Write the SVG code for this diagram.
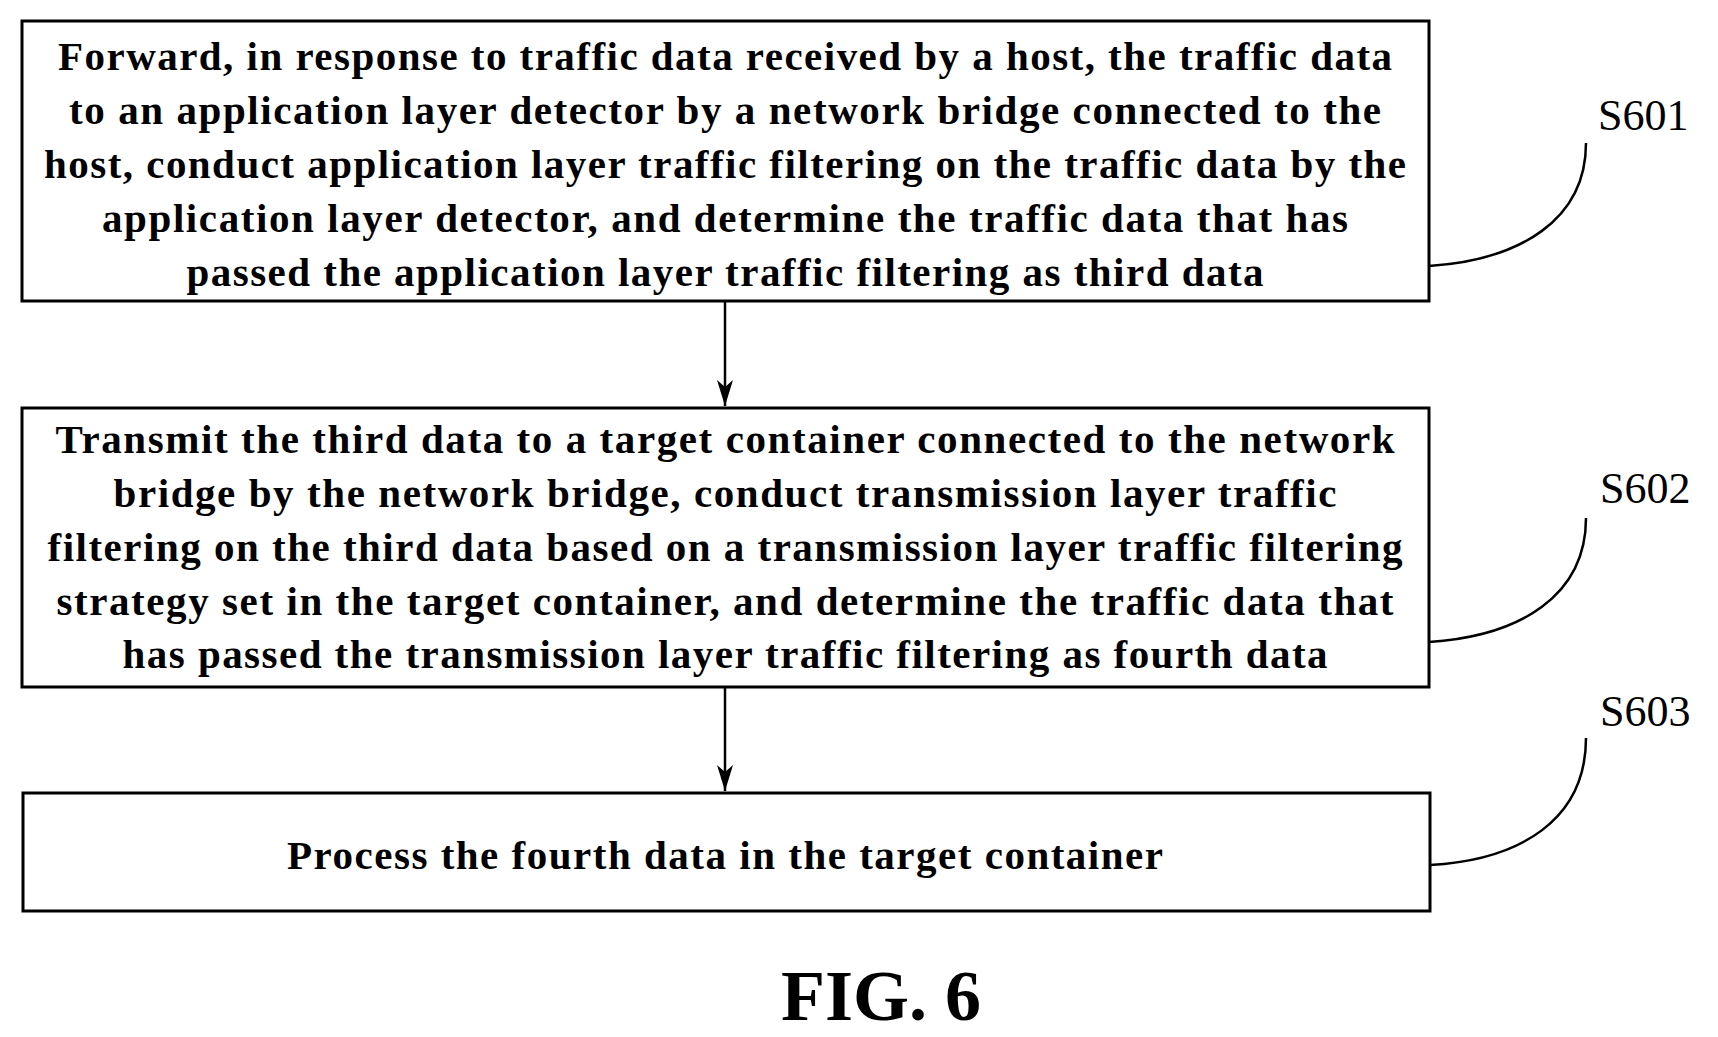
<svg xmlns="http://www.w3.org/2000/svg" width="1718" height="1037" viewBox="0 0 1718 1037">
<style>
.b{fill:#fff;stroke:#000;stroke-width:3}
.t{font-family:"Liberation Serif",serif;font-weight:bold;font-size:41px;text-anchor:middle;fill:#000}
.l{font-family:"Liberation Serif",serif;font-size:44px;fill:#000}
.c{fill:none;stroke:#000;stroke-width:2.5}
</style>
<defs><marker id="a" markerWidth="26" markerHeight="16" refX="26" refY="8" orient="auto" markerUnits="userSpaceOnUse"><path d="M26 8 L0 0 L7 8 L0 16 Z" fill="#000"/></marker></defs>
<rect width="1718" height="1037" fill="#fff"/>
<g id="connectors">
<line x1="725" y1="301" x2="725" y2="406" stroke="#000" stroke-width="2.5" marker-end="url(#a)"/>
<line x1="725" y1="687" x2="725" y2="791" stroke="#000" stroke-width="2.5" marker-end="url(#a)"/>
<path class="c" d="M1429 266 C1520 260 1586 220 1586 143"/>
<path class="c" d="M1429 642 C1520 636 1586 596 1586 518"/>
<path class="c" d="M1430 865 C1520 860 1586 820 1586 738"/>
</g>
<g id="s601">
<rect class="b" x="22" y="21" width="1407" height="280"/>
<text class="t" x="725" y="70" textLength="1334" lengthAdjust="spacing">Forward, in response to traffic data received by a host, the traffic data</text>
<text class="t" x="725" y="124" textLength="1312" lengthAdjust="spacing">to an application layer detector by a network bridge connected to the</text>
<text class="t" x="725" y="178" textLength="1362" lengthAdjust="spacing">host, conduct application layer traffic filtering on the traffic data by the</text>
<text class="t" x="725" y="232" textLength="1246" lengthAdjust="spacing">application layer detector, and determine the traffic data that has</text>
<text class="t" x="725" y="286" textLength="1077" lengthAdjust="spacing">passed the application layer traffic filtering as third data</text>
<text class="l" x="1598" y="130">S601</text>
</g>
<g id="s602">
<rect class="b" x="22" y="408" width="1407" height="279"/>
<text class="t" x="725" y="453" textLength="1339" lengthAdjust="spacing">Transmit the third data to a target container connected to the network</text>
<text class="t" x="725" y="507" textLength="1223" lengthAdjust="spacing">bridge by the network bridge, conduct transmission layer traffic</text>
<text class="t" x="725" y="561" textLength="1355" lengthAdjust="spacing">filtering on the third data based on a transmission layer traffic filtering</text>
<text class="t" x="725" y="615" textLength="1337" lengthAdjust="spacing">strategy set in the target container, and determine the traffic data that</text>
<text class="t" x="725" y="668" textLength="1205" lengthAdjust="spacing">has passed the transmission layer traffic filtering as fourth data</text>
<text class="l" x="1600" y="503">S602</text>
</g>
<g id="s603">
<rect class="b" x="23" y="793" width="1407" height="118"/>
<text class="t" x="725" y="869" textLength="876" lengthAdjust="spacing">Process the fourth data in the target container</text>
<text class="l" x="1600" y="726">S603</text>
</g>
<text x="881" y="1020" font-family="Liberation Serif,serif" font-weight="bold" font-size="72" text-anchor="middle">FIG. 6</text>
</svg>
